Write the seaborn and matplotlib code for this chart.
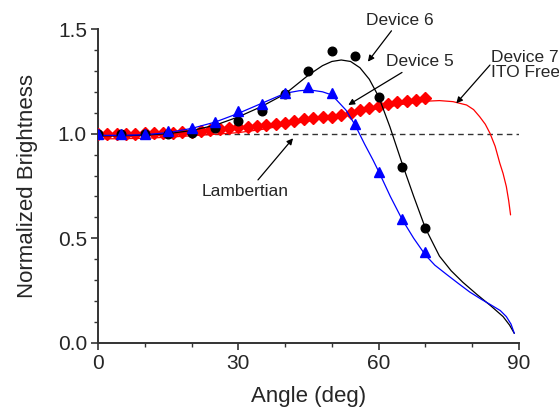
import numpy as np
import pandas as pd
import matplotlib
matplotlib.use("Agg")
import matplotlib.pyplot as plt
import seaborn as sns
from matplotlib.ticker import MultipleLocator

# ---- data ----
dev6_angle = [0, 5, 10, 15, 20, 25, 30, 35, 40, 45, 50, 55, 60, 65, 70]
dev6_val = [1.0, 1.0, 1.0, 1.0, 1.005, 1.027, 1.061, 1.108, 1.19, 1.30, 1.395, 1.371, 1.175, 0.84, 0.55]

dev5_angle = [0, 5, 10, 15, 20, 25, 30, 35, 40, 45, 50, 55, 60, 65, 70]
dev5_val = [1.0, 0.997, 1.0, 1.014, 1.026, 1.054, 1.108, 1.142, 1.194, 1.225, 1.193, 1.045, 0.815, 0.591, 0.435]

dev7_angle = list(range(0, 71, 2))
dev7_val = [1.0, 1.0, 1.0, 1.0, 1.0, 1.001, 1.002, 1.002, 1.003, 1.006, 1.01, 1.014, 1.018,
            1.022, 1.026, 1.030, 1.034, 1.038, 1.042, 1.046, 1.053, 1.062, 1.069, 1.073,
            1.078, 1.078, 1.089, 1.10, 1.113, 1.121, 1.132, 1.14, 1.153, 1.157, 1.161, 1.169]

fit6_angle = [0, 5, 10, 15, 20, 25, 30, 35, 40, 45, 48, 50, 52, 54, 56, 58, 60, 62.4, 65, 67.5, 70, 73, 75.5, 78, 81, 84, 86.6, 88, 89]
fit6_val = [0.99, 0.99, 0.993, 1.0, 1.015, 1.04, 1.08, 1.13, 1.19, 1.28, 1.325, 1.345, 1.352, 1.345, 1.315, 1.26, 1.177, 1.033, 0.859, 0.70, 0.548, 0.415, 0.345, 0.29, 0.232, 0.177, 0.126, 0.085, 0.046]

fit5_angle = [0, 5, 10, 15, 20, 25, 30, 35, 40, 43, 45.3, 48, 50, 53, 55, 57, 58.8, 60.1, 62.5, 65, 67.5, 70, 72, 74.5, 77, 79.5, 82, 84, 86, 87.3, 88.3, 89]
fit5_val = [0.992, 0.992, 0.995, 1.005, 1.025, 1.055, 1.097, 1.145, 1.193, 1.205, 1.209, 1.2, 1.185, 1.113, 1.04, 0.95, 0.874, 0.815, 0.70, 0.591, 0.50, 0.42, 0.372, 0.328, 0.285, 0.243, 0.208, 0.182, 0.155, 0.126, 0.09, 0.046]

fit7_angle = [0, 5, 10, 15, 20, 25, 30, 35, 40, 45, 50, 55, 60, 65, 70, 73, 75.9, 78.8, 80.3, 81.6, 82.8, 83.8, 84.9, 85.9, 86.6, 87.3, 87.8, 88.2]
fit7_val = [0.975, 0.976, 0.978, 0.983, 0.99, 0.997, 1.005, 1.02, 1.04, 1.06, 1.08, 1.10, 1.12, 1.14, 1.155, 1.158, 1.153, 1.137, 1.115, 1.081, 1.045, 1.002, 0.94, 0.859, 0.81, 0.747, 0.68, 0.612]

lambert_y = 1.0

xticks = [0, 30, 60, 90]
yticks = [0.0, 0.5, 1.0, 1.5]
ytick_labels = ["0.0", "0.5", "1.0", "1.5"]

# ---- plotting ----
sns.set_style("ticks")
plt.rcParams["font.family"] = ["Liberation Sans", "DejaVu Sans"]

fig = plt.figure(figsize=(5.59, 4.11), dpi=100)
ax = fig.add_axes([0.1753, 0.1655, 0.7531, 0.7639])

ax.axhline(lambert_y, color="#333333", lw=1.0, dashes=(4, 3), zorder=1)

sns.lineplot(x=fit7_angle, y=fit7_val, ax=ax, color="red", lw=0.9, sort=False, zorder=2, clip_on=False)
sns.lineplot(x=fit6_angle, y=fit6_val, ax=ax, color="black", lw=0.9, sort=False, zorder=4)
sns.lineplot(x=fit5_angle, y=fit5_val, ax=ax, color="blue", lw=0.9, sort=False, zorder=4)

ax.plot(dev7_angle, dev7_val, ls="none", marker="D", ms=6.5, color="red", mec="red", zorder=3)
ax.plot(dev6_angle, dev6_val, ls="none", marker="o", ms=6.2, color="black", zorder=5)
ax.plot(dev5_angle, dev5_val, ls="none", marker="^", ms=7.2, color="blue", zorder=6)

ax.set_xlim(0, 90)
ax.set_ylim(0, 1.5)
ax.set_xticks(xticks)
ax.set_xticklabels([str(t) for t in xticks])
ax.set_yticks(yticks)
ax.set_yticklabels(ytick_labels)
ax.xaxis.set_minor_locator(MultipleLocator(10))
ax.yaxis.set_minor_locator(MultipleLocator(0.1))

for s in ["top", "right"]:
    ax.spines[s].set_visible(False)
for s in ["left", "bottom"]:
    ax.spines[s].set_linewidth(1.4)
    ax.spines[s].set_color("#333333")

ax.tick_params(which="major", direction="out", length=5, width=1.2, color="#333333", labelsize=15, pad=3)
ax.tick_params(which="minor", direction="out", length=3, width=1.0, color="#333333")

ax.set_xlabel("Angle (deg)", fontsize=16, labelpad=9)
ax.set_ylabel("Normalized Brightness", fontsize=16, labelpad=14)

arr = dict(arrowstyle="-|>", color="black", lw=0.9, mutation_scale=9, shrinkA=0, shrinkB=0)
ax.annotate("Device 6", xy=(57.7, 1.344), xytext=(64.5, 1.543), fontsize=12.5,
            ha="center", va="center", arrowprops=arr, annotation_clip=False)
ax.annotate("Device 5", xy=(53.5, 1.137), xytext=(68.8, 1.344), fontsize=12.5,
            ha="center", va="center", arrowprops=arr, annotation_clip=False)
ax.annotate("", xy=(76.6, 1.145), xytext=(83.8, 1.328), arrowprops=arr, annotation_clip=False)
ax.text(84.1, 1.328, "Device 7\nITO Free", fontsize=12.5, ha="left", va="center",
        linespacing=1.05, clip_on=False)
ax.annotate("", xy=(41.7, 0.978), xytext=(34.2, 0.779), arrowprops=arr)
ax.text(31.4, 0.723, "Lambertian", fontsize=12.5, ha="center", va="center")

fig.savefig("out.png", dpi=100)
